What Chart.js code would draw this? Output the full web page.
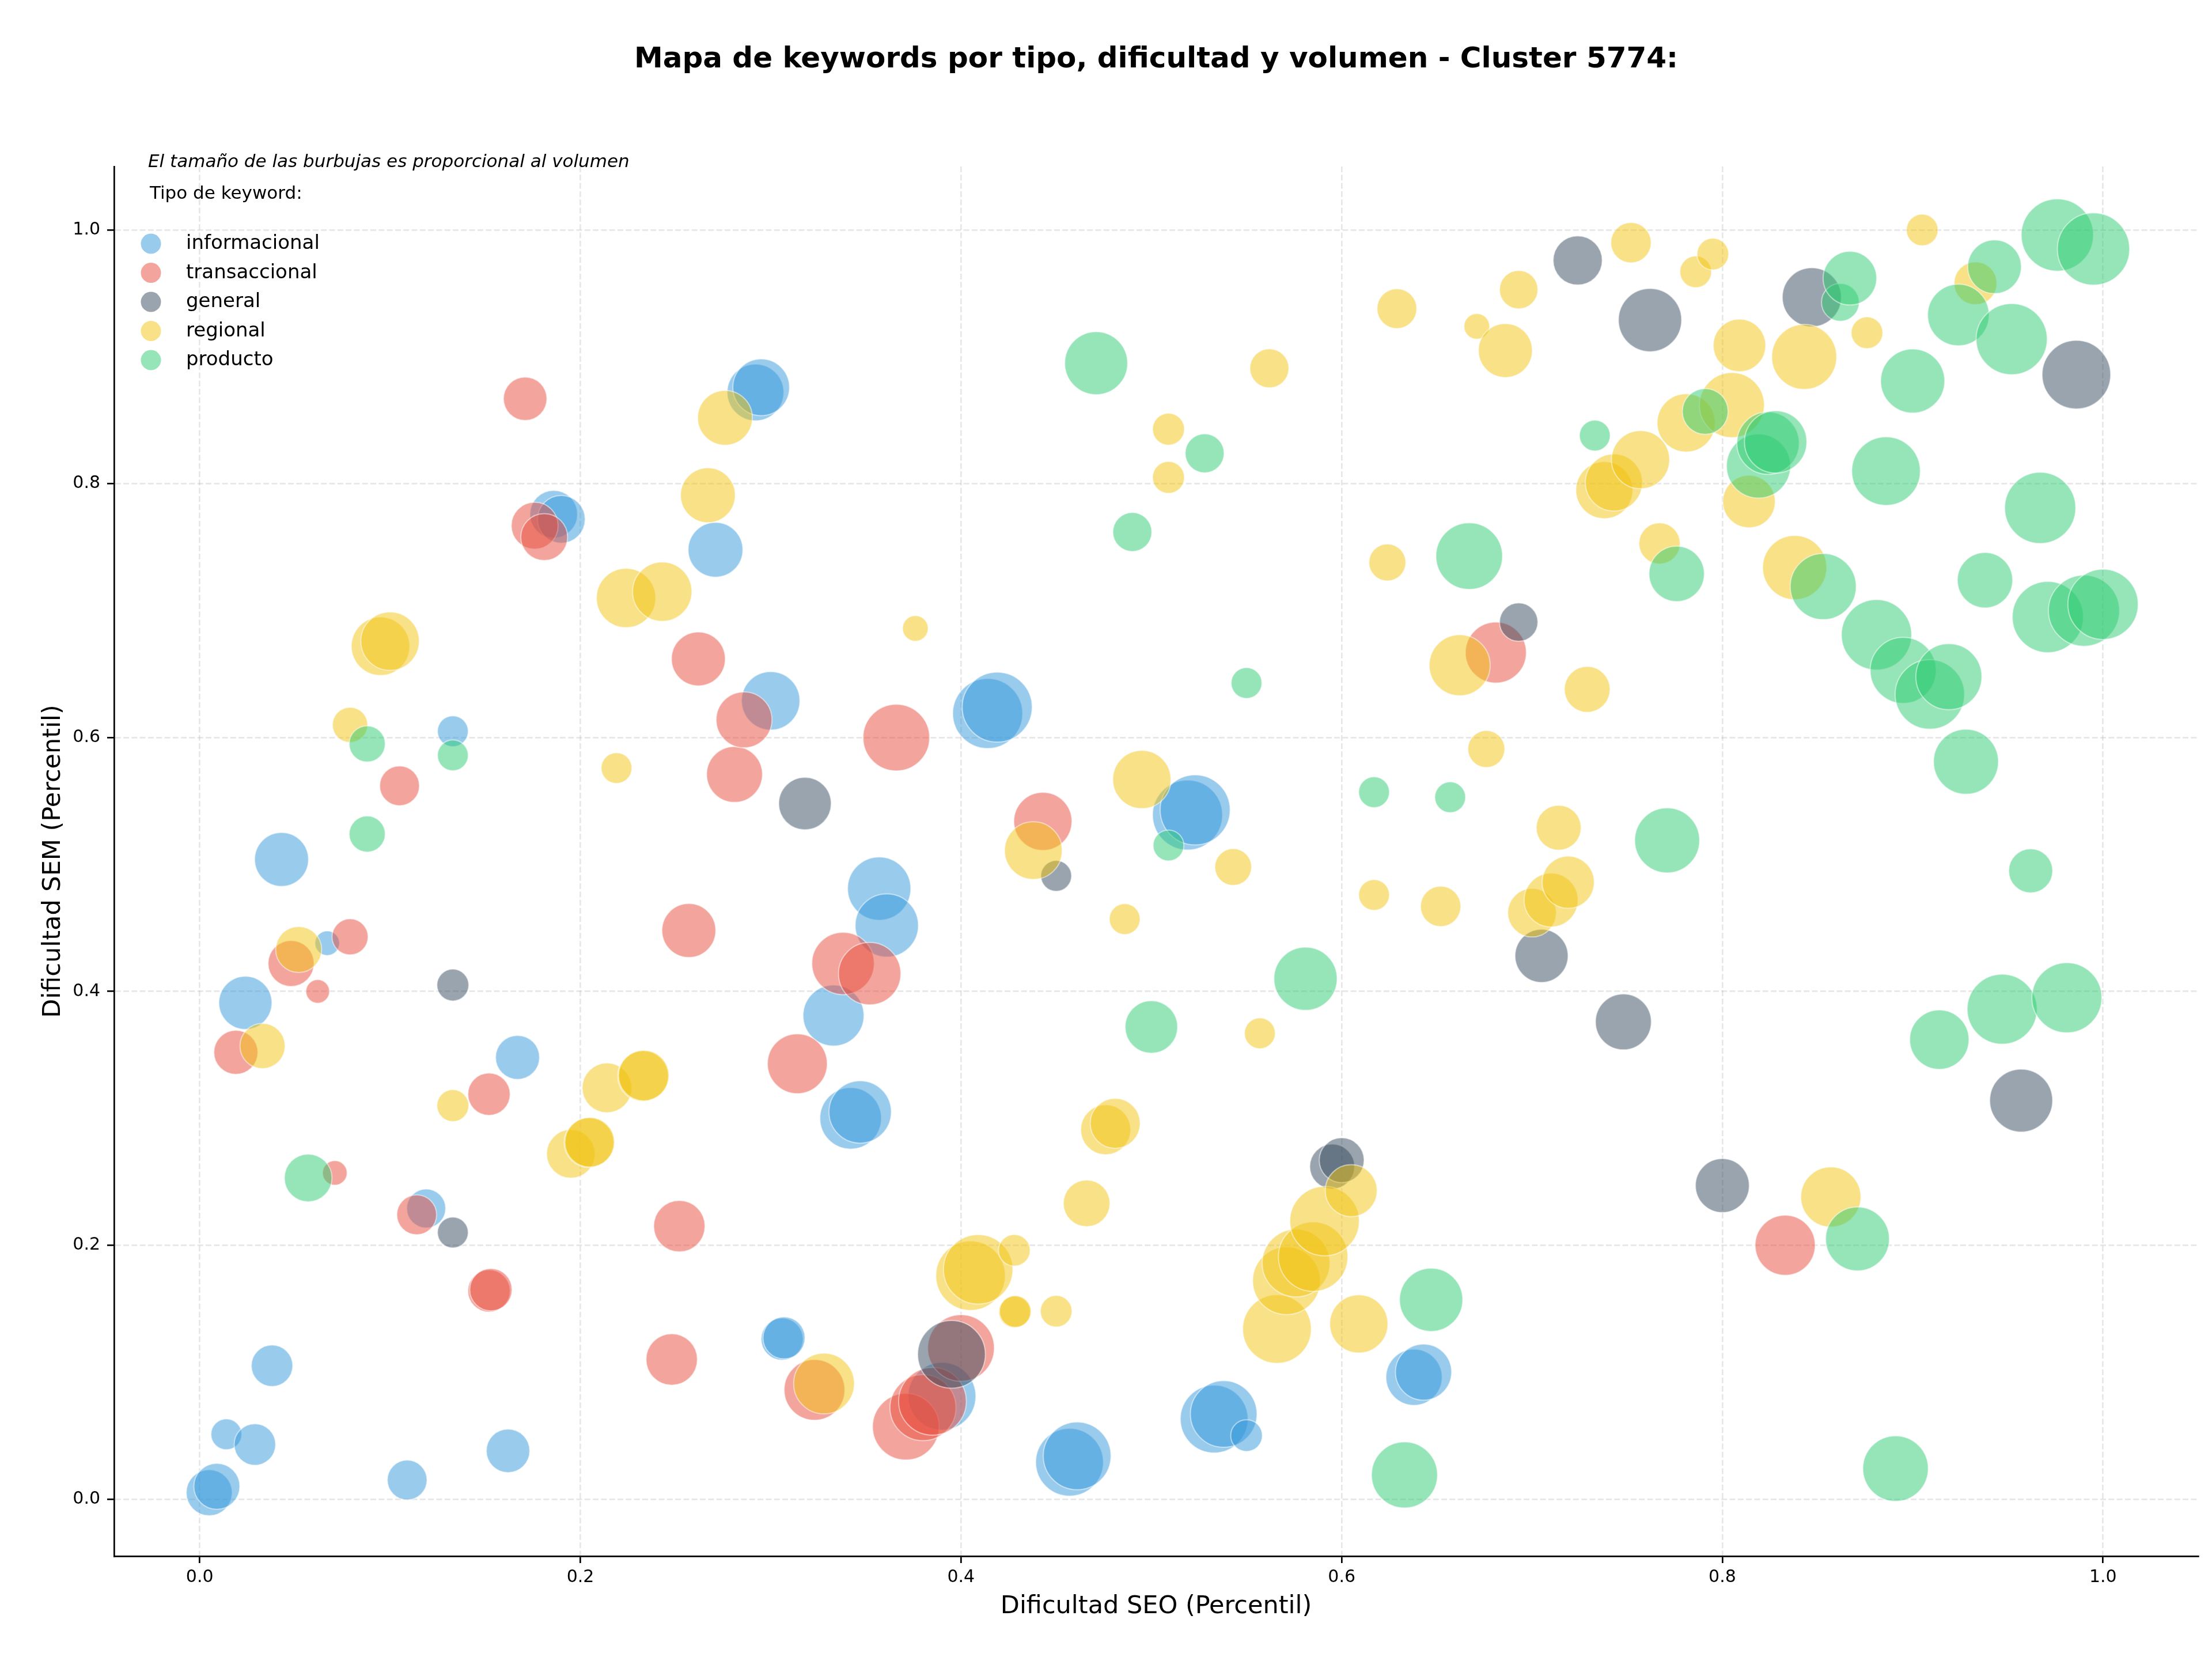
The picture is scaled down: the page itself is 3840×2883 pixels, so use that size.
<!DOCTYPE html>
<html>
<head>
<meta charset="utf-8">
<script src="https://cdn.jsdelivr.net/npm/chart.js@4.4.1/dist/chart.umd.min.js"></script>
<style>
  html, body { margin: 0; padding: 0; background: #fff; }
  #wrap { width: 3840px; height: 2883px; }
</style>
</head>
<body>
<div id="wrap"><canvas id="chart"></canvas></div>
<script>
// Texts
const chartTitle = 'Mapa de keywords por tipo, dificultad y volumen - Cluster 5774:';
const noteText = 'El tamaño de las burbujas es proporcional al volumen';
const legendTitle = 'Tipo de keyword:';
const xLabel = 'Dificultad SEO (Percentil)';
const yLabel = 'Dificultad SEM (Percentil)';

// Categories and colours
const categories = ['informacional', 'transaccional', 'general', 'regional', 'producto'];
const categoryColors = ['52,152,219', '231,76,60', '52,73,94', '241,196,15', '46,204,113'];

// Tick labels
const xTicks = [0.0, 0.2, 0.4, 0.6, 0.8, 1.0];
const yTicks = [0.0, 0.2, 0.4, 0.6, 0.8, 1.0];

// informacional
const infoX = [0.005, 0.009, 0.014, 0.029, 0.038, 0.109, 0.162, 0.024, 0.043, 0.067, 0.119, 0.133, 0.167, 0.186, 0.190, 0.271, 0.292, 0.295, 0.300, 0.333, 0.342, 0.347, 0.357, 0.361, 0.306, 0.307, 0.390, 0.414, 0.419, 0.457, 0.461, 0.519, 0.523, 0.533, 0.538, 0.550, 0.638, 0.643];
const infoY = [0.005, 0.010, 0.051, 0.043, 0.105, 0.015, 0.038, 0.391, 0.504, 0.438, 0.229, 0.605, 0.348, 0.776, 0.772, 0.748, 0.872, 0.876, 0.629, 0.381, 0.300, 0.305, 0.481, 0.452, 0.126, 0.127, 0.081, 0.619, 0.624, 0.029, 0.034, 0.539, 0.543, 0.063, 0.067, 0.050, 0.096, 0.100];
const infoVol = [2790, 2790, 1280, 2280, 2280, 2100, 2500, 3690, 3800, 830, 2020, 1280, 2560, 2990, 2990, 3920, 4200, 4200, 4450, 4840, 4930, 5060, 5200, 5200, 2340, 2340, 5950, 6350, 6350, 5950, 5950, 6350, 6350, 5950, 5760, 1350, 4120, 4120];

// transaccional
const transX = [0.019, 0.048, 0.062, 0.079, 0.071, 0.114, 0.105, 0.152, 0.152, 0.153, 0.171, 0.176, 0.181, 0.252, 0.248, 0.257, 0.262, 0.281, 0.286, 0.314, 0.338, 0.352, 0.366, 0.323, 0.371, 0.380, 0.385, 0.400, 0.443, 0.681, 0.833];
const transY = [0.352, 0.422, 0.400, 0.443, 0.257, 0.224, 0.562, 0.319, 0.164, 0.165, 0.867, 0.767, 0.758, 0.215, 0.110, 0.448, 0.662, 0.571, 0.614, 0.343, 0.422, 0.414, 0.600, 0.086, 0.057, 0.072, 0.077, 0.119, 0.534, 0.667, 0.200];
const transVol = [2560, 2790, 770, 1740, 830, 2100, 2100, 2370, 2370, 2370, 2500, 2890, 2890, 3460, 3460, 3800, 3800, 4080, 4080, 4670, 5060, 5060, 5760, 4800, 5760, 5660, 5950, 5760, 4410, 4840, 4710];

// general
const genX = [0.133, 0.133, 0.318, 0.395, 0.450, 0.595, 0.600, 0.693, 0.705, 0.724, 0.748, 0.762, 0.800, 0.847, 0.957, 0.986];
const genY = [0.405, 0.210, 0.548, 0.114, 0.491, 0.262, 0.267, 0.691, 0.428, 0.976, 0.376, 0.929, 0.247, 0.947, 0.314, 0.886];
const genVol = [1370, 1280, 3610, 5950, 1280, 2660, 2660, 1960, 3690, 3170, 4080, 5200, 3800, 4540, 5150, 6100];

// regional
const regX = [0.033, 0.052, 0.079, 0.095, 0.100, 0.133, 0.195, 0.2045, 0.2049, 0.214, 0.2329, 0.2333, 0.219, 0.224, 0.243, 0.267, 0.276, 0.328, 0.376, 0.405, 0.409, 0.428, 0.4281, 0.4285, 0.450, 0.438, 0.466, 0.476, 0.481, 0.486, 0.495, 0.509, 0.509, 0.543, 0.557, 0.562, 0.566, 0.571, 0.576, 0.585, 0.591, 0.605, 0.609, 0.617, 0.624, 0.629, 0.652, 0.662, 0.671, 0.676, 0.686, 0.693, 0.700, 0.710, 0.714, 0.719, 0.729, 0.738, 0.743, 0.752, 0.757, 0.767, 0.781, 0.786, 0.795, 0.805, 0.809, 0.814, 0.838, 0.843, 0.857, 0.876, 0.905, 0.933];
const regY = [0.357, 0.433, 0.610, 0.672, 0.676, 0.310, 0.272, 0.2808, 0.2812, 0.324, 0.3333, 0.3337, 0.576, 0.710, 0.715, 0.791, 0.852, 0.091, 0.686, 0.176, 0.181, 0.196, 0.1474, 0.1478, 0.148, 0.511, 0.233, 0.291, 0.296, 0.457, 0.567, 0.843, 0.805, 0.498, 0.367, 0.891, 0.134, 0.172, 0.186, 0.191, 0.219, 0.243, 0.138, 0.476, 0.738, 0.938, 0.467, 0.657, 0.924, 0.591, 0.905, 0.953, 0.462, 0.472, 0.529, 0.486, 0.638, 0.795, 0.801, 0.990, 0.819, 0.753, 0.848, 0.967, 0.981, 0.862, 0.909, 0.786, 0.734, 0.900, 0.238, 0.919, 1.000, 0.958];
const regVol = [2690, 2790, 1660, 4450, 4450, 1370, 3100, 3240, 3240, 3240, 3350, 3350, 1280, 4580, 4580, 3920, 3920, 4800, 900, 6250, 6250, 1350, 1350, 1350, 1350, 4330, 2860, 3280, 3280, 1280, 4410, 1370, 1370, 1800, 1280, 2020, 6100, 5950, 5950, 6250, 6250, 3530, 4410, 1280, 1820, 2100, 2160, 4840, 900, 1820, 3800, 1960, 3100, 3800, 2660, 3570, 2760, 4240, 4240, 2160, 4410, 2250, 4410, 1350, 1350, 5480, 3610, 3610, 5340, 5480, 4710, 1350, 1350, 2430];

// producto
const prodX = [0.057, 0.088, 0.088, 0.133, 0.471, 0.490, 0.500, 0.509, 0.528, 0.550, 0.581, 0.617, 0.633, 0.647, 0.657, 0.667, 0.733, 0.771, 0.776, 0.791, 0.819, 0.824, 0.828, 0.853, 0.862, 0.867, 0.871, 0.881, 0.886, 0.891, 0.895, 0.900, 0.909, 0.914, 0.919, 0.924, 0.928, 0.938, 0.943, 0.947, 0.952, 0.962, 0.967, 0.971, 0.976, 0.981, 0.990, 0.995, 1.000];
const prodY = [0.253, 0.595, 0.524, 0.586, 0.895, 0.762, 0.372, 0.515, 0.824, 0.643, 0.410, 0.557, 0.019, 0.157, 0.553, 0.743, 0.838, 0.519, 0.729, 0.857, 0.814, 0.832, 0.833, 0.719, 0.943, 0.962, 0.205, 0.681, 0.810, 0.024, 0.653, 0.881, 0.634, 0.362, 0.648, 0.933, 0.581, 0.724, 0.971, 0.386, 0.914, 0.495, 0.781, 0.695, 0.996, 0.395, 0.700, 0.985, 0.705];
const prodVol = [2990, 1740, 1740, 1280, 5150, 2020, 3610, 1280, 2020, 1280, 5200, 1280, 5660, 5200, 1280, 5760, 1280, 5480, 4000, 2760, 5340, 5060, 5060, 5660, 1900, 3760, 5290, 6400, 6100, 5570, 5660, 5340, 6250, 4580, 5660, 4930, 5480, 4000, 3760, 6350, 6550, 2560, 6550, 6550, 6760, 6350, 6550, 6760, 6400];

const seriesX = [infoX, transX, genX, regX, prodX];
const seriesY = [infoY, transY, genY, regY, prodY];
const seriesVol = [infoVol, transVol, genVol, regVol, prodVol];

// bubble area proportional to volume
function bubbleRadius(vol) {
  return 0.7745 * Math.sqrt(vol) - 1;
}

const datasets = categories.map((name, i) => ({
  label: name,
  data: seriesX[i].map((x, j) => ({ x: x, y: seriesY[i][j], r: bubbleRadius(seriesVol[i][j]) })),
  backgroundColor: 'rgba(' + categoryColors[i] + ',0.5)',
  borderColor: 'rgba(255,255,255,0.5)',
  borderWidth: 2,
  order: categories.length - i
}));

// title, note and legend drawn over the chart
const overlay = {
  id: 'overlay',
  afterDraw(chart) {
    const c = chart.ctx;
    const area = chart.chartArea;
    c.save();
    c.fillStyle = '#000';
    c.textBaseline = 'alphabetic';

    c.font = 'bold 50px "DejaVu Sans"';
    c.textAlign = 'center';
    c.fillText(chartTitle, (area.left + area.right) / 2, 117);

    c.textAlign = 'left';
    c.font = 'italic 31px "DejaVu Sans"';
    c.fillText(noteText, 257, 290);

    c.font = '31px "DejaVu Sans"';
    c.fillText(legendTitle, 260, 345);

    c.font = '34px "DejaVu Sans"';
    categories.forEach((name, i) => {
      const cy = 423 + i * 50.5;
      c.beginPath();
      c.arc(262, cy, 17.5, 0, Math.PI * 2);
      c.fillStyle = 'rgba(' + categoryColors[i] + ',0.5)';
      c.fill();
      c.fillStyle = '#000';
      c.fillText(name, 323, cy + 9);
    });
    c.restore();
  }
};

Chart.defaults.font.family = '"DejaVu Sans"';
Chart.defaults.color = '#000';

const gridOpts = {
  color: 'rgba(176,176,176,0.3)',
  lineWidth: 2.7,
  tickColor: '#000',
  tickWidth: 2.7,
  tickLength: 12,
  tickBorderDash: []
};
const borderOpts = { display: true, color: '#000', width: 2.7, dash: [10, 4.3] };

new Chart(document.getElementById('chart'), {
  type: 'bubble',
  data: { datasets: datasets },
  options: {
    responsive: true,
    maintainAspectRatio: false,
    devicePixelRatio: 1,
    animation: false,
    events: [],
    layout: {
      autoPadding: false,
      padding: { top: 289, right: 24, bottom: 0, left: 0 }
    },
    plugins: {
      legend: { display: false },
      tooltip: { enabled: false },
      title: { display: false }
    },
    scales: {
      x: {
        type: 'linear',
        min: -0.045,
        max: 1.05,
        afterBuildTicks: (scale) => { scale.ticks = xTicks.map(v => ({ value: v })); },
        afterFit: (scale) => {
          scale.height = 182;
          scale.paddingLeft = 0;
          scale.paddingRight = 0;
        },
        grid: gridOpts,
        border: borderOpts,
        ticks: {
          autoSkip: false,
          maxRotation: 0,
          padding: 7,
          font: { size: 30 },
          callback: (v) => Number(v).toFixed(1)
        },
        title: {
          display: true,
          text: xLabel,
          font: { size: 43 },
          padding: { top: 0, bottom: 68 }
        }
      },
      y: {
        type: 'linear',
        min: -0.045,
        max: 1.05,
        afterBuildTicks: (scale) => { scale.ticks = yTicks.map(v => ({ value: v })); },
        afterFit: (scale) => {
          scale.width = 198;
          scale.paddingTop = 0;
          scale.paddingBottom = 0;
        },
        grid: gridOpts,
        border: borderOpts,
        ticks: {
          autoSkip: false,
          padding: 12,
          font: { size: 30 },
          callback: (v) => Number(v).toFixed(1)
        },
        title: {
          display: true,
          text: yLabel,
          font: { size: 43 },
          padding: { top: 67, bottom: 0 }
        }
      }
    }
  },
  plugins: [overlay]
});
</script>
</body>
</html>
